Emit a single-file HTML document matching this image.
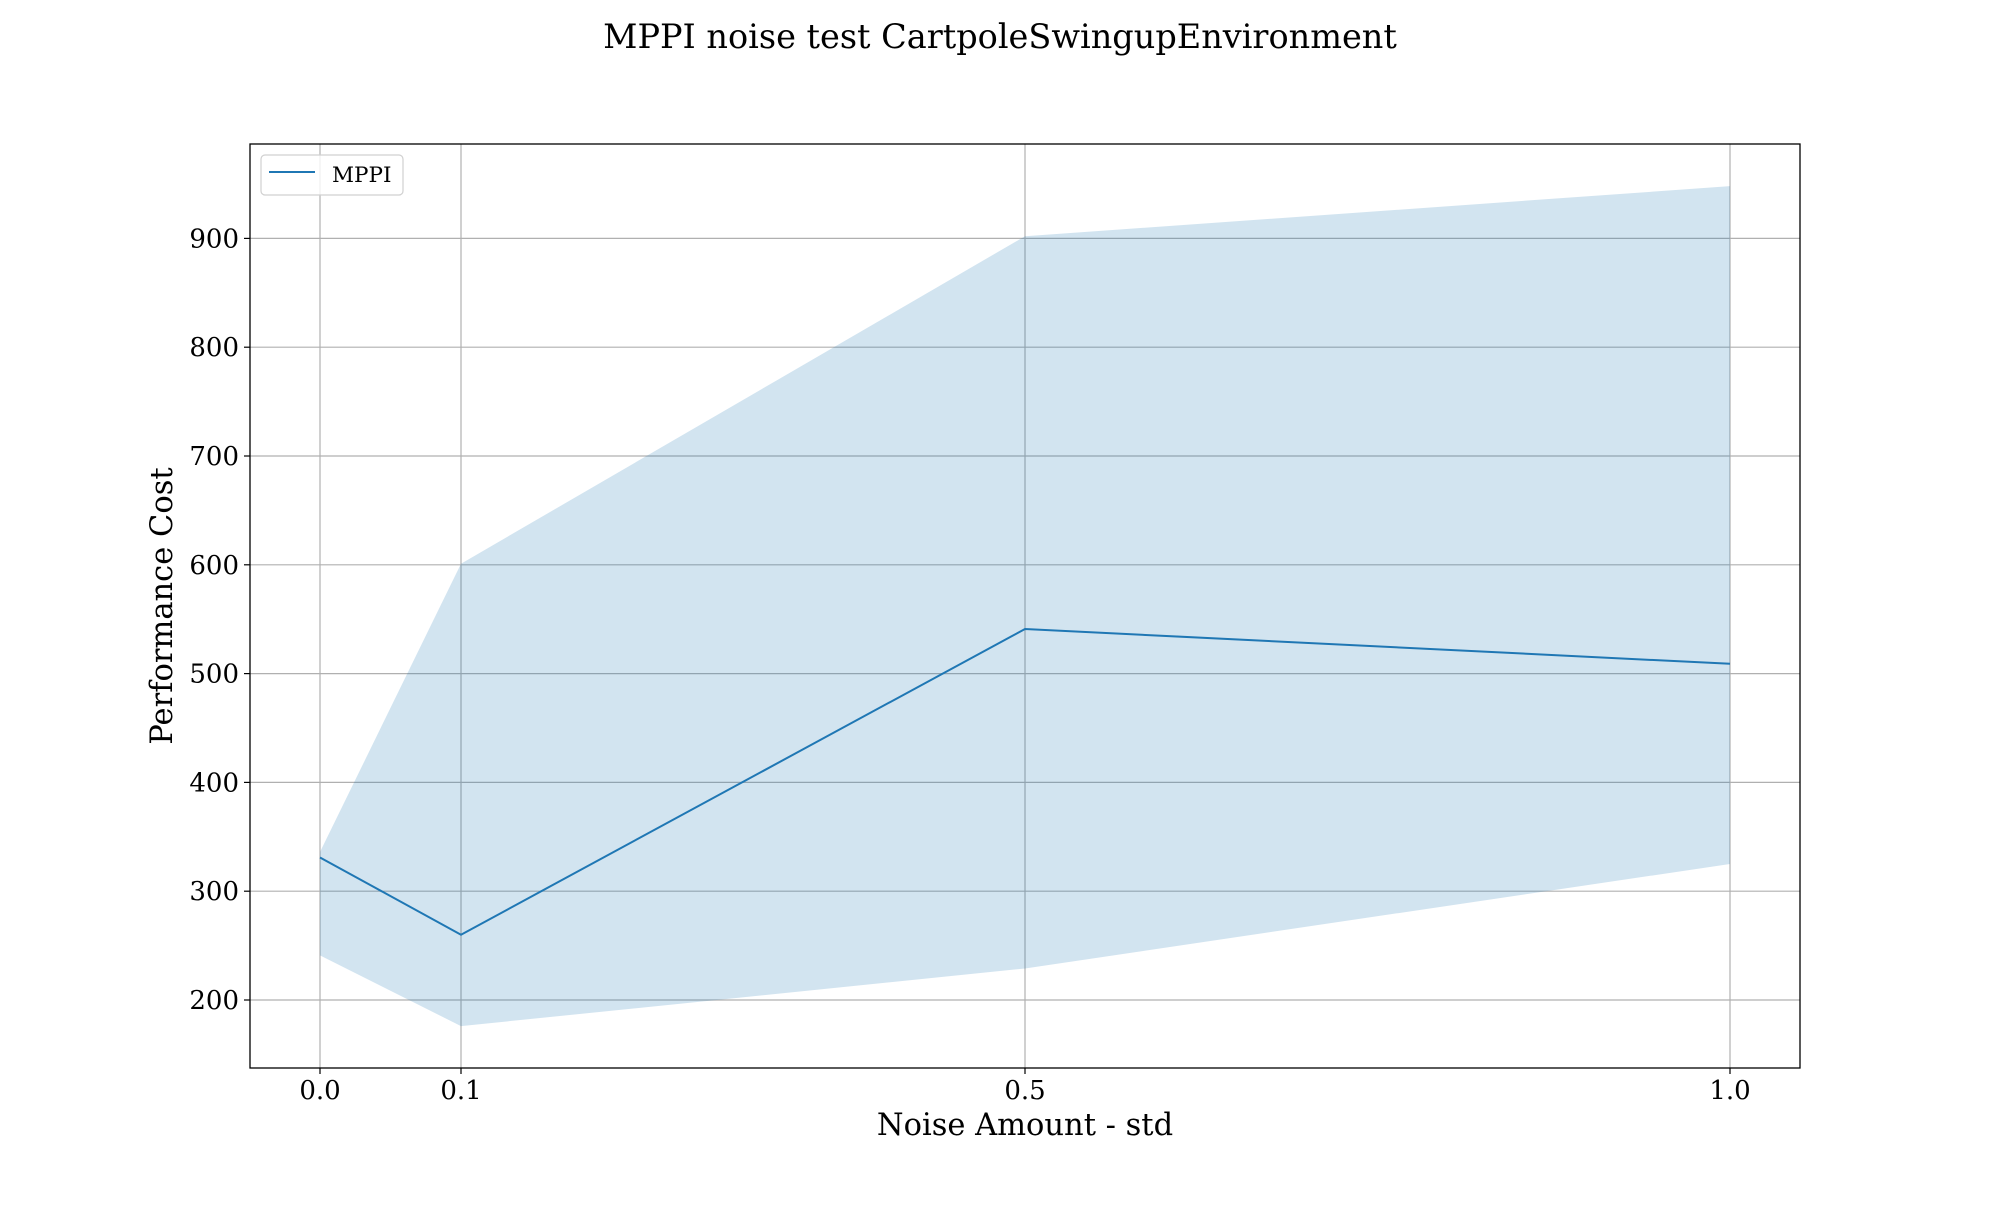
<!DOCTYPE html>
<html><head><meta charset="utf-8"><style>
body{margin:0;background:#fff}
text{font-family:"DejaVu Serif","Liberation Serif",serif;fill:#000}
</style></head><body>
<svg id="chart" width="2000" height="1200" xmlns="http://www.w3.org/2000/svg">
<text x="1000" y="48" font-size="33.5" text-anchor="middle">MPPI noise test CartpoleSwingupEnvironment</text>
<g id="plot"></g>
</svg>
<script>
const xs=[0.0,0.1,0.5,1.0];
const meanVals=[331,260,541,509];
const upperVals=[336,601,902,948];
const lowerVals=[241,176,229,325];
const xTicks=[0.0,0.1,0.5,1.0];
const xTickLabels=["0.0","0.1","0.5","1.0"];
const yTicks=[200,300,400,500,600,700,800,900];
const L=250,R=1800,T=144,B=1068;
const X=v=>320+1410*v;
const Y=v=>1000-(v-200)*1.088;
const ns="http://www.w3.org/2000/svg";
const g=document.getElementById('plot');
function mk(t,a){const e=document.createElementNS(ns,t);for(const k in a)e.setAttribute(k,a[k]);g.appendChild(e);return e;}
xTicks.forEach((v,i)=>{
 const l=mk('line',{x1:X(v),x2:X(v),y1:T,y2:B,stroke:'#b0b0b0','stroke-width':1.2});
 
 
 const tk=mk('line',{x1:X(v),x2:X(v),y1:B,y2:B+6,stroke:'#000','stroke-width':1.2});
 
 
 const t=mk('text',{x:X(v),y:1099,'font-size':26,'text-anchor':'middle'});
 t.textContent=xTickLabels[i];
 
 
});
yTicks.forEach(v=>{
 const l=mk('line',{x1:L,x2:R,y1:Y(v),y2:Y(v),stroke:'#b0b0b0','stroke-width':1.2});
 
 
 const tk=mk('line',{x1:L-6,x2:L,y1:Y(v),y2:Y(v),stroke:'#000','stroke-width':1.2});
 
 
 const t=mk('text',{x:L-11,y:Y(v)+9,'font-size':26,'text-anchor':'end'});
 t.textContent=String(v);
 
 
});
let pts=xs.map((x,i)=>X(x)+','+Y(upperVals[i]));
for(let i=xs.length-1;i>=0;i--)pts.push(X(xs[i])+','+Y(lowerVals[i]));
const band=mk('polygon',{points:pts.join(' '),fill:'#1f77b4','fill-opacity':0.2});


const line=mk('polyline',{points:xs.map((x,i)=>X(x)+','+Y(meanVals[i])).join(' '),fill:'none',stroke:'#1f77b4','stroke-width':2});


const fr=mk('rect',{x:L,y:T,width:R-L,height:B-T,fill:'none',stroke:'#000','stroke-width':1.3});


const lg=mk('rect',{x:261,y:155,width:142,height:40,rx:4,fill:'#fff','fill-opacity':0.8,stroke:'#d0d0d0','stroke-width':1.2});


const ll=mk('line',{x1:269,x2:315,y1:172,y2:172,stroke:'#1f77b4','stroke-width':2});


const lt=mk('text',{x:332,y:182,'font-size':21.5});
lt.textContent='MPPI';


const xl=mk('text',{x:1025,y:1135,'font-size':30.5,'text-anchor':'middle'});
xl.textContent='Noise Amount - std';


const yl=mk('text',{x:0,y:0,'font-size':30.5,'text-anchor':'middle',transform:'translate(172,606) rotate(-90)'});
yl.textContent='Performance Cost';


</script>
</body></html>
